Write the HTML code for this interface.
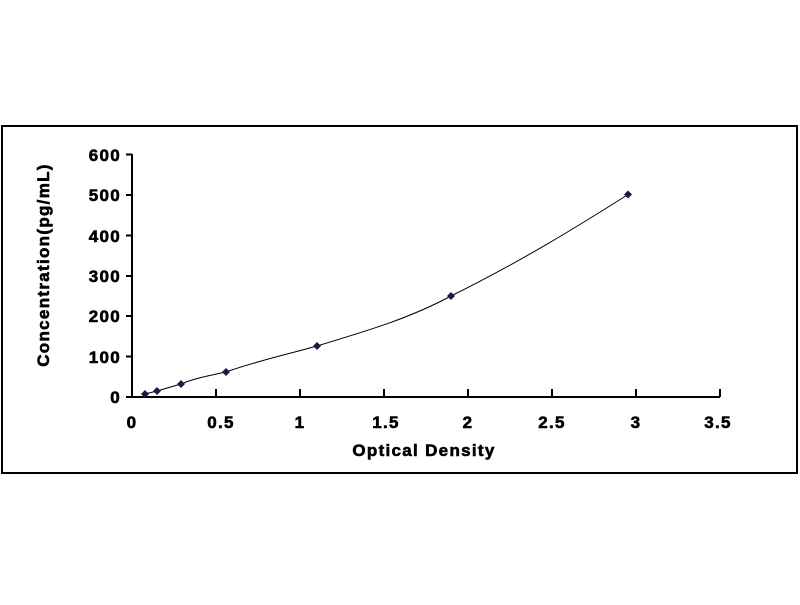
<!DOCTYPE html>
<html><head><style>body{margin:0;background:#fff}</style></head><body>
<svg width="800" height="600" xmlns="http://www.w3.org/2000/svg" font-family="Liberation Sans, sans-serif" font-weight="bold">
<rect x="0" y="0" width="800" height="600" fill="#fff"/>
<rect x="2" y="126" width="795" height="347" fill="none" stroke="#000" stroke-width="2"/>
<g stroke="#000" stroke-width="2" fill="none">
<line x1="132" y1="154" x2="132" y2="398"/>
<line x1="131" y1="397" x2="720" y2="397"/>
<line x1="126" y1="154.5" x2="132" y2="154.5"/>
<line x1="126" y1="195" x2="132" y2="195"/>
<line x1="126" y1="235.5" x2="132" y2="235.5"/>
<line x1="126" y1="276" x2="132" y2="276"/>
<line x1="126" y1="316" x2="132" y2="316"/>
<line x1="126" y1="356.5" x2="132" y2="356.5"/>
<line x1="126" y1="397" x2="132" y2="397"/>
<line x1="216" y1="389" x2="216" y2="397"/>
<line x1="300" y1="389" x2="300" y2="397"/>
<line x1="384" y1="389" x2="384" y2="397"/>
<line x1="468" y1="389" x2="468" y2="397"/>
<line x1="552" y1="389" x2="552" y2="397"/>
<line x1="636" y1="389" x2="636" y2="397"/>
<line x1="720" y1="389" x2="720" y2="397"/>
</g>
<path d="M145,394 L157,391 L181,384 C195,378 212,375 226,372 C260,360 285,355 317,346 C370,330 410,318 451,296 C520,262 580,225 628,194.5" fill="none" stroke="#000" stroke-width="1"/>
<g fill="#1a1a4a">
<path d="M145,390 l4,4 l-4,4 l-4,-4z"/>
<path d="M157,387 l4,4 l-4,4 l-4,-4z"/>
<path d="M181,380 l4,4 l-4,4 l-4,-4z"/>
<path d="M226,368 l4,4 l-4,4 l-4,-4z"/>
<path d="M317,342 l4,4 l-4,4 l-4,-4z"/>
<path d="M451,292 l4,4 l-4,4 l-4,-4z"/>
<path d="M628,190.5 l4,4 l-4,4 l-4,-4z"/>
</g>
<g font-size="17" letter-spacing="1.3" stroke="#000" stroke-width="0.6" fill="#000">
<g text-anchor="end">
<text x="121" y="161">600</text>
<text x="121" y="201">500</text>
<text x="121" y="242">400</text>
<text x="121" y="282">300</text>
<text x="121" y="322">200</text>
<text x="121" y="363">100</text>
<text x="121" y="403">0</text>
</g>
<g text-anchor="middle">
<text x="132" y="428">0</text>
<text x="221" y="428">0.5</text>
<text x="300" y="428">1</text>
<text x="386" y="428">1.5</text>
<text x="468" y="428">2</text>
<text x="552" y="428">2.5</text>
<text x="636" y="428">3</text>
<text x="718" y="428">3.5</text>
<text x="424" y="456">Optical Density</text>
<text transform="translate(49,265) rotate(-90)">Concentration(pg/mL)</text>
</g>
</g>
</svg>
</body></html>
